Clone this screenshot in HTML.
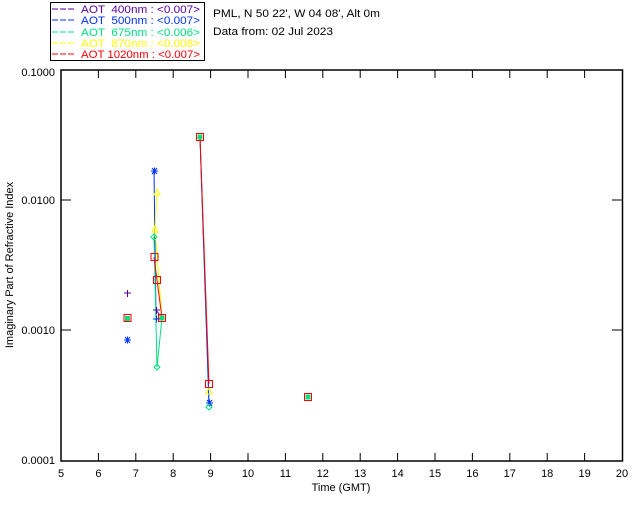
<!DOCTYPE html>
<html><head><style>body{margin:0;background:#fff}svg{display:block}text{font-family:"Liberation Sans",sans-serif;white-space:pre}</style></head><body>
<svg width="640" height="512" viewBox="0 0 640 512" xmlns="http://www.w3.org/2000/svg">
<rect width="640" height="512" fill="#fff"/>
<rect x="50.5" y="2.5" width="154" height="58" fill="none" stroke="#000" stroke-width="1"/>
<g font-size="11">
<line x1="52" y1="9" x2="76" y2="9" stroke="#5a00a0" stroke-dasharray="6,2"/><text x="81" y="13" fill="#5a00a0" textLength="119" lengthAdjust="spacingAndGlyphs">AOT  400nm : &lt;0.007&gt;</text>
<line x1="52" y1="20" x2="76" y2="20" stroke="#0030ff" stroke-dasharray="6,2"/><text x="81" y="24" fill="#0030ff" textLength="119" lengthAdjust="spacingAndGlyphs">AOT  500nm : &lt;0.007&gt;</text>
<line x1="52" y1="32" x2="76" y2="32" stroke="#00e080" stroke-dasharray="6,2"/><text x="81" y="36" fill="#00e080" textLength="119" lengthAdjust="spacingAndGlyphs">AOT  675nm : &lt;0.006&gt;</text>
<line x1="52" y1="43" x2="76" y2="43" stroke="#ffff00" stroke-dasharray="6,2"/><text x="81" y="47" fill="#ffff00" textLength="119" lengthAdjust="spacingAndGlyphs">AOT  870nm : &lt;0.008&gt;</text>
<line x1="52" y1="54" x2="76" y2="54" stroke="#ff0000" stroke-dasharray="6,2"/><text x="81" y="58" fill="#ff0000" textLength="119" lengthAdjust="spacingAndGlyphs">AOT 1020nm : &lt;0.007&gt;</text>
<text x="213" y="17" fill="#000" textLength="167" lengthAdjust="spacingAndGlyphs">PML, N 50 22', W 04 08', Alt 0m</text>
<text x="213" y="35" fill="#000" textLength="120" lengthAdjust="spacingAndGlyphs">Data from: 02 Jul 2023</text>
</g>
<rect x="61" y="70" width="561.5" height="391" fill="none" stroke="#000" stroke-width="1.5"/>
<g stroke="#000" stroke-width="1">
<path d="M98.4 461v-8M135.8 461v-8M173.2 461v-8M210.6 461v-8M248 461v-8M285.4 461v-8M322.8 461v-8M360.2 461v-8M397.6 461v-8M435 461v-8M472.4 461v-8M509.8 461v-8M547.2 461v-8M584.6 461v-8"/>
<path d="M98.4 70v8M135.8 70v8M173.2 70v8M210.6 70v8M248 70v8M285.4 70v8M322.8 70v8M360.2 70v8M397.6 70v8M435 70v8M472.4 70v8M509.8 70v8M547.2 70v8M584.6 70v8"/>
<path d="M61 200h10M61 330h10M622 200h-10M622 330h-10"/>
</g>
<g font-size="11" fill="#000">
<text x="55" y="76" text-anchor="end">0.1000</text>
<text x="55" y="204" text-anchor="end">0.0100</text>
<text x="55" y="334" text-anchor="end">0.0010</text>
<text x="55" y="464" text-anchor="end">0.0001</text>
<g text-anchor="middle">
<text x="61" y="477">5</text><text x="98.4" y="477">6</text><text x="135.8" y="477">7</text><text x="173.2" y="477">8</text><text x="210.6" y="477">9</text><text x="248" y="477">10</text><text x="285.4" y="477">11</text><text x="322.8" y="477">12</text><text x="360.2" y="477">13</text><text x="397.6" y="477">14</text><text x="435" y="477">15</text><text x="472.4" y="477">16</text><text x="509.8" y="477">17</text><text x="547.2" y="477">18</text><text x="584.6" y="477">19</text><text x="622" y="477">20</text>
<text x="341" y="491">Time (GMT)</text>
<text transform="translate(13,265) rotate(-90)">Imaginary Part of Refractive Index</text>
</g>
</g>
<g fill="none" stroke-width="1">
<polyline points="156,310 162,318" stroke="#5a00a0"/>
<polyline points="154,171 156,319 162,318" stroke="#0030ff"/>
<polyline points="154,237 157,367 162,318" stroke="#00e080"/>
<polyline points="157,193 155,230 162,318" stroke="#ffff00"/>
<polyline points="154,257 157,280 162,318" stroke="#ff0000"/>
<polyline points="200,137 209,406" stroke="#00e080"/>
<polyline points="200,137 209,403" stroke="#0030ff"/>
<polyline points="200,137 209,384" stroke="#ff0000"/>
</g>
<g stroke-width="1">
<path d="M124 293h7M127.5 290v7M153 310h7M156.5 307v7" stroke="#5a00a0"/>
<path d="M124 340h7M127.5 336.5v7M125 337l5 6M130 337l-5 6M151 171h7M154.5 167.5v7M152 168l5 6M157 168l-5 6M153 319h7M156.5 315.5v7M206 403h7M209.5 399.5v7M207 400l5 6M212 400l-5 6" stroke="#0030ff"/>
<path d="M154 234l3 3-3 3-3-3zM157 364l3 3-3 3-3-3zM209 404l3 3-3 3-3-3z" fill="none" stroke="#00e080"/>
<path d="M157 189l3 6h-6zM155 226l3 6h-6zM209 388l3 6h-6z" fill="none" stroke="#ffff00"/>
<rect x="125" y="316" width="5" height="5" fill="#00e080"/><rect x="159.5" y="315.5" width="5" height="5" fill="#00e080"/><rect x="197.5" y="134.5" width="5" height="5" fill="#00e080"/><rect x="305.5" y="394.5" width="5" height="5" fill="#00e080"/>
<path d="M124 314.5h7v7h-7zM151 253.5h7v7h-7zM153.5 276.5h7v7h-7zM158.5 314.5h7v7h-7zM196.5 133.5h7v7h-7zM205.5 380.5h7v7h-7zM304.5 393.5h7v7h-7z" fill="none" stroke="#ff0000"/>
</g>
</svg>
</body></html>
